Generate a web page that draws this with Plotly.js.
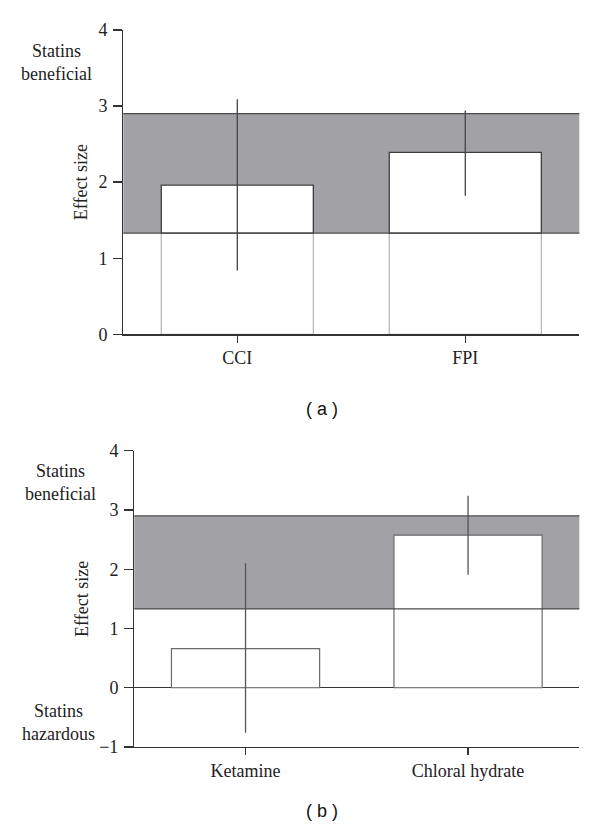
<!DOCTYPE html>
<html><head><meta charset="utf-8">
<script src="https://cdn.plot.ly/plotly-3.0.1.min.js"></script>
<style>body{margin:0;background:#fff}#chart{width:600px;height:830px}</style>
</head><body><div id="chart"></div>
<script>
// Panel (a)
const catsA = ['CCI', 'FPI'];
const effectA = [1.96, 2.39];
const errHighA = [3.09, 2.94];
const errLowA = [0.84, 1.82];
// Panel (b)
const catsB = ['Ketamine', 'Chloral hydrate'];
const effectB = [0.66, 2.575];
const errHighB = [2.10, 3.24];
const errLowB = [-0.76, 1.905];
// Grey band (shared)
const bandLow = 1.33;
const bandHigh = 2.9;

const serif = 'Liberation Serif, Times New Roman, serif';
const axisCol = '#333333';
const bandCol = '#a2a1a6';
const edgeCol = '#4a4a4a';
const txtCol = '#222222';

const traces = [
  { type: 'bar', x: catsA, y: effectA, width: 0.667, xaxis: 'x', yaxis: 'y',
    marker: { color: '#ffffff', line: { color: '#b4b4b4', width: 1.2 } }, hoverinfo: 'skip' },
  { type: 'bar', x: catsA, base: bandLow, y: effectA.map(v => Math.max(0, v - bandLow)), width: 0.667,
    xaxis: 'x', yaxis: 'y',
    marker: { color: '#ffffff', line: { color: '#3c3c3c', width: 1.3 } }, hoverinfo: 'skip' },
  { type: 'scatter', mode: 'markers', x: catsA, y: effectA, xaxis: 'x', yaxis: 'y',
    marker: { size: 1, color: 'rgba(0,0,0,0)' },
    error_y: { type: 'data', symmetric: false,
      array: errHighA.map((h, i) => h - effectA[i]),
      arrayminus: effectA.map((v, i) => v - errLowA[i]),
      color: '#444444', thickness: 1.3, width: 0 }, hoverinfo: 'skip' },
  { type: 'bar', x: catsB, y: effectB, width: 0.666, xaxis: 'x2', yaxis: 'y2',
    marker: { color: '#ffffff', line: { color: '#6a6a6a', width: 1.2 } }, hoverinfo: 'skip' },
  { type: 'scatter', mode: 'markers', x: catsB, y: effectB, xaxis: 'x2', yaxis: 'y2',
    marker: { size: 1, color: 'rgba(0,0,0,0)' },
    error_y: { type: 'data', symmetric: false,
      array: errHighB.map((h, i) => h - effectB[i]),
      arrayminus: effectB.map((v, i) => v - errLowB[i]),
      color: '#555555', thickness: 1.3, width: 0 }, hoverinfo: 'skip' }
];

function band(xr, yr) {
  return [
    { type: 'rect', xref: xr + ' domain', yref: yr, x0: 0, x1: 1, y0: bandLow, y1: bandHigh,
      fillcolor: bandCol, line: { width: 0 }, layer: 'below' },
    { type: 'line', xref: xr + ' domain', yref: yr, x0: 0, x1: 1, y0: bandHigh, y1: bandHigh,
      line: { color: edgeCol, width: 1.3 }, layer: 'above' },
    { type: 'line', xref: xr + ' domain', yref: yr, x0: 0, x1: 1, y0: bandLow, y1: bandLow,
      line: { color: edgeCol, width: 1.3 }, layer: 'above' }
  ];
}

const xCommon = {
  type: 'category', range: [-0.5, 1.5], showline: true, linecolor: axisCol, linewidth: 1.3,
  ticks: 'outside', ticklen: 7, tickwidth: 1.3, tickcolor: axisCol, showgrid: false, zeroline: false,
  tickfont: { family: serif, size: 18, color: txtCol }, fixedrange: true
};
const yCommon = {
  showline: true, linecolor: axisCol, linewidth: 1.3, ticks: 'outside', ticklen: 9, tickwidth: 1.3,
  tickcolor: axisCol, showgrid: false, dtick: 1, ticklabelstandoff: 2,
  tickfont: { family: serif, size: 18, color: txtCol }, fixedrange: true
};

function note(text, yref, x, y) {
  return { text: text, xref: 'paper', yref: yref, x: x / 600, y: y, xanchor: 'center', yanchor: 'middle',
    showarrow: false, font: { family: serif, size: 18, color: txtCol } };
}

const layout = {
  width: 600, height: 830, showlegend: false, barmode: 'overlay',
  paper_bgcolor: '#ffffff', plot_bgcolor: 'rgba(0,0,0,0)',
  margin: { l: 0, r: 0, t: 0, b: 0, autoexpand: false },
  xaxis: Object.assign({}, xCommon, { domain: [0.2055, 0.9655], anchor: 'y' }),
  yaxis: Object.assign({}, yCommon, { domain: [0.5972, 0.9639], anchor: 'x', range: [0, 4], zeroline: false,
    title: { text: 'Effect size', font: { family: serif, size: 18, color: txtCol }, standoff: 6 } }),
  xaxis2: Object.assign({}, xCommon, { domain: [0.2238, 0.9655], anchor: 'y2' }),
  yaxis2: Object.assign({}, yCommon, { domain: [0.1, 0.457], anchor: 'x2', range: [-1, 4],
    zeroline: true, zerolinecolor: axisCol, zerolinewidth: 1.3,
    title: { text: 'Effect size', font: { family: serif, size: 18, color: txtCol }, standoff: 6 } }),
  shapes: band('x', 'y').concat(band('x2', 'y2')),
  annotations: [
    note('Statins<br>beneficial', 'y', 56, 3.575),
    note('Statins<br>beneficial', 'y2', 60, 3.465),
    note('Statins<br>hazardous', 'y2', 58, -0.585),
    { text: '( a )', xref: 'paper', yref: 'paper', x: 322 / 600, y: 1 - 409 / 830, xanchor: 'center',
      yanchor: 'middle', showarrow: false,
      font: { family: 'Liberation Sans, Arial, sans-serif', size: 18, color: '#111' } },
    { text: '( b )', xref: 'paper', yref: 'paper', x: 322 / 600, y: 1 - 811 / 830, xanchor: 'center',
      yanchor: 'middle', showarrow: false,
      font: { family: 'Liberation Sans, Arial, sans-serif', size: 18, color: '#111' } }
  ]
};

Plotly.newPlot('chart', traces, layout, { displayModeBar: false, staticPlot: true });
</script>
</body></html>
